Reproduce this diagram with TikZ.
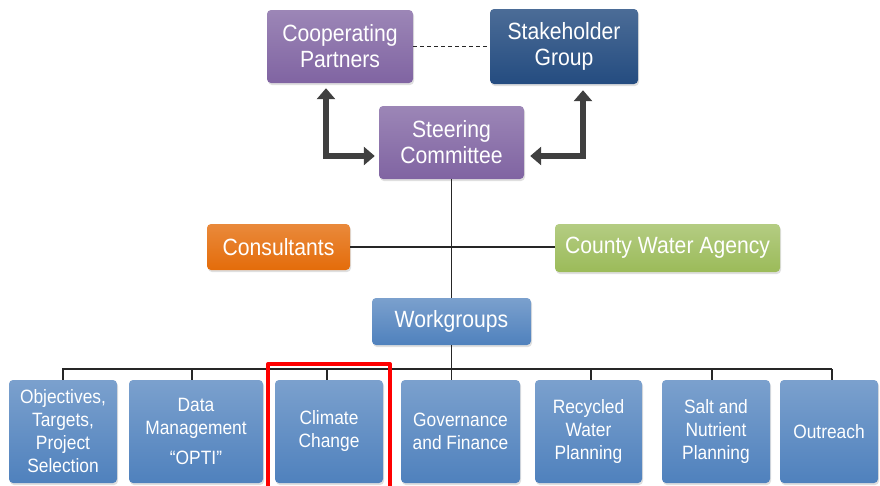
\documentclass[tikz,border=0pt]{standalone}
\usepackage{fontspec}
\setmainfont[FakeStretch=0.9]{Liberation Sans}
\usetikzlibrary{arrows.meta,shadows}
\definecolor{cpurple}{RGB}{128,100,162}
\definecolor{cnavy}{RGB}{36,76,128}
\definecolor{corange}{RGB}{228,108,10}
\definecolor{cgreen}{RGB}{155,187,89}
\definecolor{cblue}{RGB}{79,129,189}
\definecolor{carrow}{RGB}{64,64,64}
\tikzset{
  box/.style={rounded corners=4pt, inner sep=0pt, text=white, align=center,
    drop shadow={opacity=0.25, shadow xshift=1pt, shadow yshift=-2pt}},
  topbox/.style={box, font=\fontsize{23.5}{26}\selectfont},
  midbox/.style={box, font=\fontsize{23.5}{26}\selectfont},
  wgbox/.style={box, font=\fontsize{19.3}{23}\selectfont, top color=cblue!75!white, bottom color=cblue, minimum height=103pt},
  purplebox/.style={top color=cpurple!78!white, bottom color=cpurple},
  bigarrow/.style={draw=carrow, line width=6.5pt,
    {Triangle[width=18pt,length=11pt]}-{Triangle[width=18pt,length=11pt]}},
  conn/.style={draw=black!85, line width=1.1pt},
}
\begin{document}
\begin{tikzpicture}[x=1pt,y=-1pt]
\useasboundingbox[fill=white] (0,0) rectangle (880,485);

\node[topbox, purplebox, minimum width=146pt, minimum height=73pt] (cp) at (340,46.5) {Cooperating\\Partners};
\node[topbox, top color=cnavy!82!white, bottom color=cnavy, minimum width=148pt, minimum height=75pt] (sg) at (564,46.5) {Stakeholder\\Group};
\node[topbox, purplebox, minimum width=145pt, minimum height=73pt] (sc) at (451.5,142.5) {Steering\\Committee};

\node[midbox, top color=corange!80!white, bottom color=corange, minimum width=143pt, minimum height=46pt] (cons) at (278.5,247) {Consultants};
\node[midbox, top color=cgreen!75!white, bottom color=cgreen, minimum width=225pt, minimum height=48pt] (cwa) at (667.5,248) {County Water Agency};
\node[midbox, top color=cblue!75!white, bottom color=cblue, minimum width=159pt, minimum height=47pt] (wg) at (451.5,321.5) {Workgroups};

\node[wgbox, minimum width=108pt] (b1) at (63,431.5) {Objectives,\\Targets,\\Project\\Selection};
\node[wgbox, minimum width=134pt] (b2) at (196,431.5) {Data\\Management\\[7pt]“OPTI”};
\node[wgbox, minimum width=108pt] (b3) at (329,431.5) {Climate\\Change};
\node[wgbox, minimum width=119pt] (b4) at (460.5,431.5) {Governance\\and Finance};
\node[wgbox, minimum width=107pt] (b5) at (588.5,431.5) {Recycled\\Water\\Planning};
\node[wgbox, minimum width=108pt] (b6) at (716,431.5) {Salt and\\Nutrient\\Planning};
\node[wgbox, minimum width=98pt] (b7) at (829,431.5) {Outreach};

% connectors
\draw[conn, dashed, dash pattern=on 4pt off 3pt] (cp.east) -- (sg.west);
\draw[bigarrow] ([xshift=-14pt,yshift=-5pt]cp.south) |- ([xshift=-4pt,yshift=-13.5pt]sc.west);
\draw[bigarrow] ([xshift=19pt,yshift=-6pt]sg.south) |- ([xshift=6pt,yshift=-13.5pt]sc.east);
\draw[conn] (sc.south) -- (wg.north);
\draw[conn] (cons.east) -- (cons.east -| cwa.west);

\coordinate (bus) at (451.5,369);
\draw[conn] (wg.south) -- (wg.south |- b4.north);
\draw[conn] ([xshift=-1pt]b1.north |- bus) -- ([xshift=3pt]b7.north |- bus);
\draw[conn] (b1.north) -- (b1.north |- bus);
\draw[conn] ([xshift=-4pt]b2.north) -- ([xshift=-4pt]b2.north |- bus);
\draw[conn] ([xshift=-2pt]b3.north) -- ([xshift=-2pt]b3.north |- bus);
\draw[conn] ([xshift=2.5pt]b5.north) -- ([xshift=2.5pt]b5.north |- bus);
\draw[conn] ([xshift=-4pt]b6.north) -- ([xshift=-4pt]b6.north |- bus);
\draw[conn] ([xshift=3pt]b7.north) -- ([xshift=3pt]b7.north |- bus);

% highlight
\draw[red, line width=4pt, line join=round] (268,490) -- (268,364) -- (390,364) -- (390,490);
\end{tikzpicture}
\end{document}
